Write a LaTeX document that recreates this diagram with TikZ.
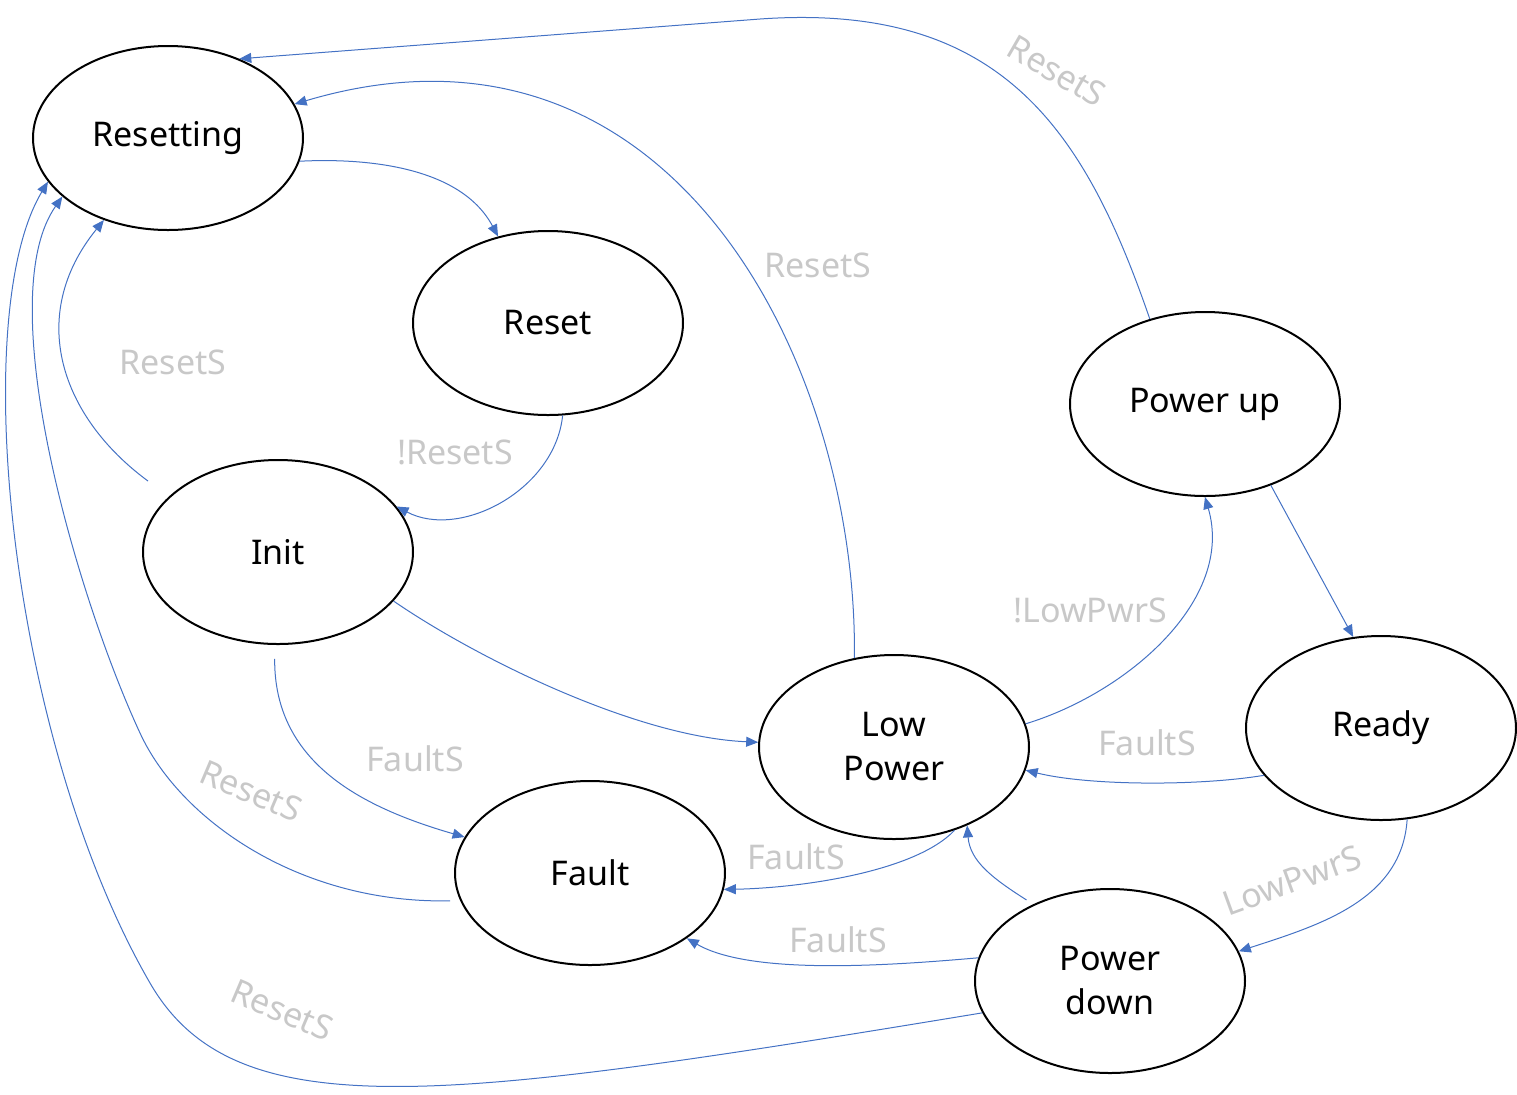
\documentclass[tikz,border=0pt]{standalone}
\usepackage{fontspec}
\setmainfont{Noto Sans}
\usetikzlibrary{arrows.meta,shapes.geometric}
\definecolor{link}{RGB}{68,114,196}
\definecolor{faint}{RGB}{200,200,200}
\begin{document}
\begin{tikzpicture}[x=0.5pt, y=-0.5pt,
  state/.style={draw, ellipse, line width=1pt, minimum width=135pt, minimum height=92pt, inner sep=0pt, align=center, font=\fontsize{17}{22}\selectfont},
  lbl/.style={text=faint, inner sep=0pt, font=\fontsize{17}{22}\selectfont},
  arr/.style={-{Triangle[length=6pt,width=5pt]}, link, line width=0.5pt}]
\useasboundingbox (0,0) rectangle (1517,1094);
\node[state] (resetting) at (168,138) {Resetting};
\node[state] (reset) at (548,323) {Reset};
\node[state] (init) at (278,552) {Init};
\node[state] (up) at (1205,404) {Power up};
\node[state] (low) at (894,747) {Low\\Power};
\node[state] (ready) at (1381,728) {Ready};
\node[state] (fault) at (590,873) {Fault};
\node[state] (down) at (1110,981) {Power\\down};
\node[lbl, rotate=-30] (l1) at (1057,71) {ResetS};
\node[lbl] (l2) at (818,265) {ResetS};
\node[lbl] (l3) at (455,452) {!ResetS};
\node[lbl] (l4) at (173,362) {ResetS};
\node[lbl] (l5) at (415,759) {FaultS};
\node[lbl, rotate=-23] (l6) at (251,791) {ResetS};
\node[lbl, rotate=-23] (l7) at (282,1010) {ResetS};
\node[lbl] (l8) at (1090,610) {!LowPwrS};
\node[lbl] (l9) at (1147,743) {FaultS};
\node[lbl, rotate=20] (l10) at (1292,880) {LowPwrS};
\node[lbl] (l11) at (796,857) {FaultS};
\node[lbl] (l12) at (838,940) {FaultS};
\draw[arr] (up.123) .. controls (1084,128) and (1000,2) .. (760,19) -- (resetting.48);
\draw[arr] (low.114) .. controls (858,369) and (675,-9) .. (resetting.15);
\draw[arr] (resetting.-10) .. controls (362,158) and (460,165) .. (reset.120);
\draw[arr] (reset.-81) .. controls (555,490) and (460,540) .. (init.21);
\draw[arr, shorten <=13pt] (init.153.5) .. controls (61,417) and (26,316) .. (resetting.232);
\draw[arr] (init.-23) .. controls (478,659) and (637,737) .. (low.178);
\draw[arr, shorten <=7pt] (init.268) .. controls (274,760) and (357,806) .. (fault.164.5);
\draw[arr, shorten <=5pt] (fault.192.7) .. controls (300,904) and (180,820) .. (140,733) .. controls (77,597) and (-10,300) .. (resetting.209.5);
\draw[arr] (down.194.7) .. controls (441,1102) and (235,1130) .. (150,983) .. controls (10,741) and (-33,316) .. (resetting.200.6);
\draw[arr] (low.10) .. controls (1127,693) and (1235,600) .. (up.-90);
\draw[arr] (up.-51) -- (ready.107.5);
\draw[arr] (ready.202) .. controls (1200,786) and (1090,786) .. (low.-10);
\draw[arr] (ready.-74) .. controls (1402,900) and (1320,925) .. (down.13);
\draw[arr] (low.-54) .. controls (915,872) and (800,888) .. (fault.-7);
\draw[arr, shorten <=4pt] (down.135) .. controls (992,878) and (970,861) .. (low.-47);
\draw[arr] (down.170.5) .. controls (885,966) and (750,975) .. (fault.-34);
\end{tikzpicture}
\end{document}
